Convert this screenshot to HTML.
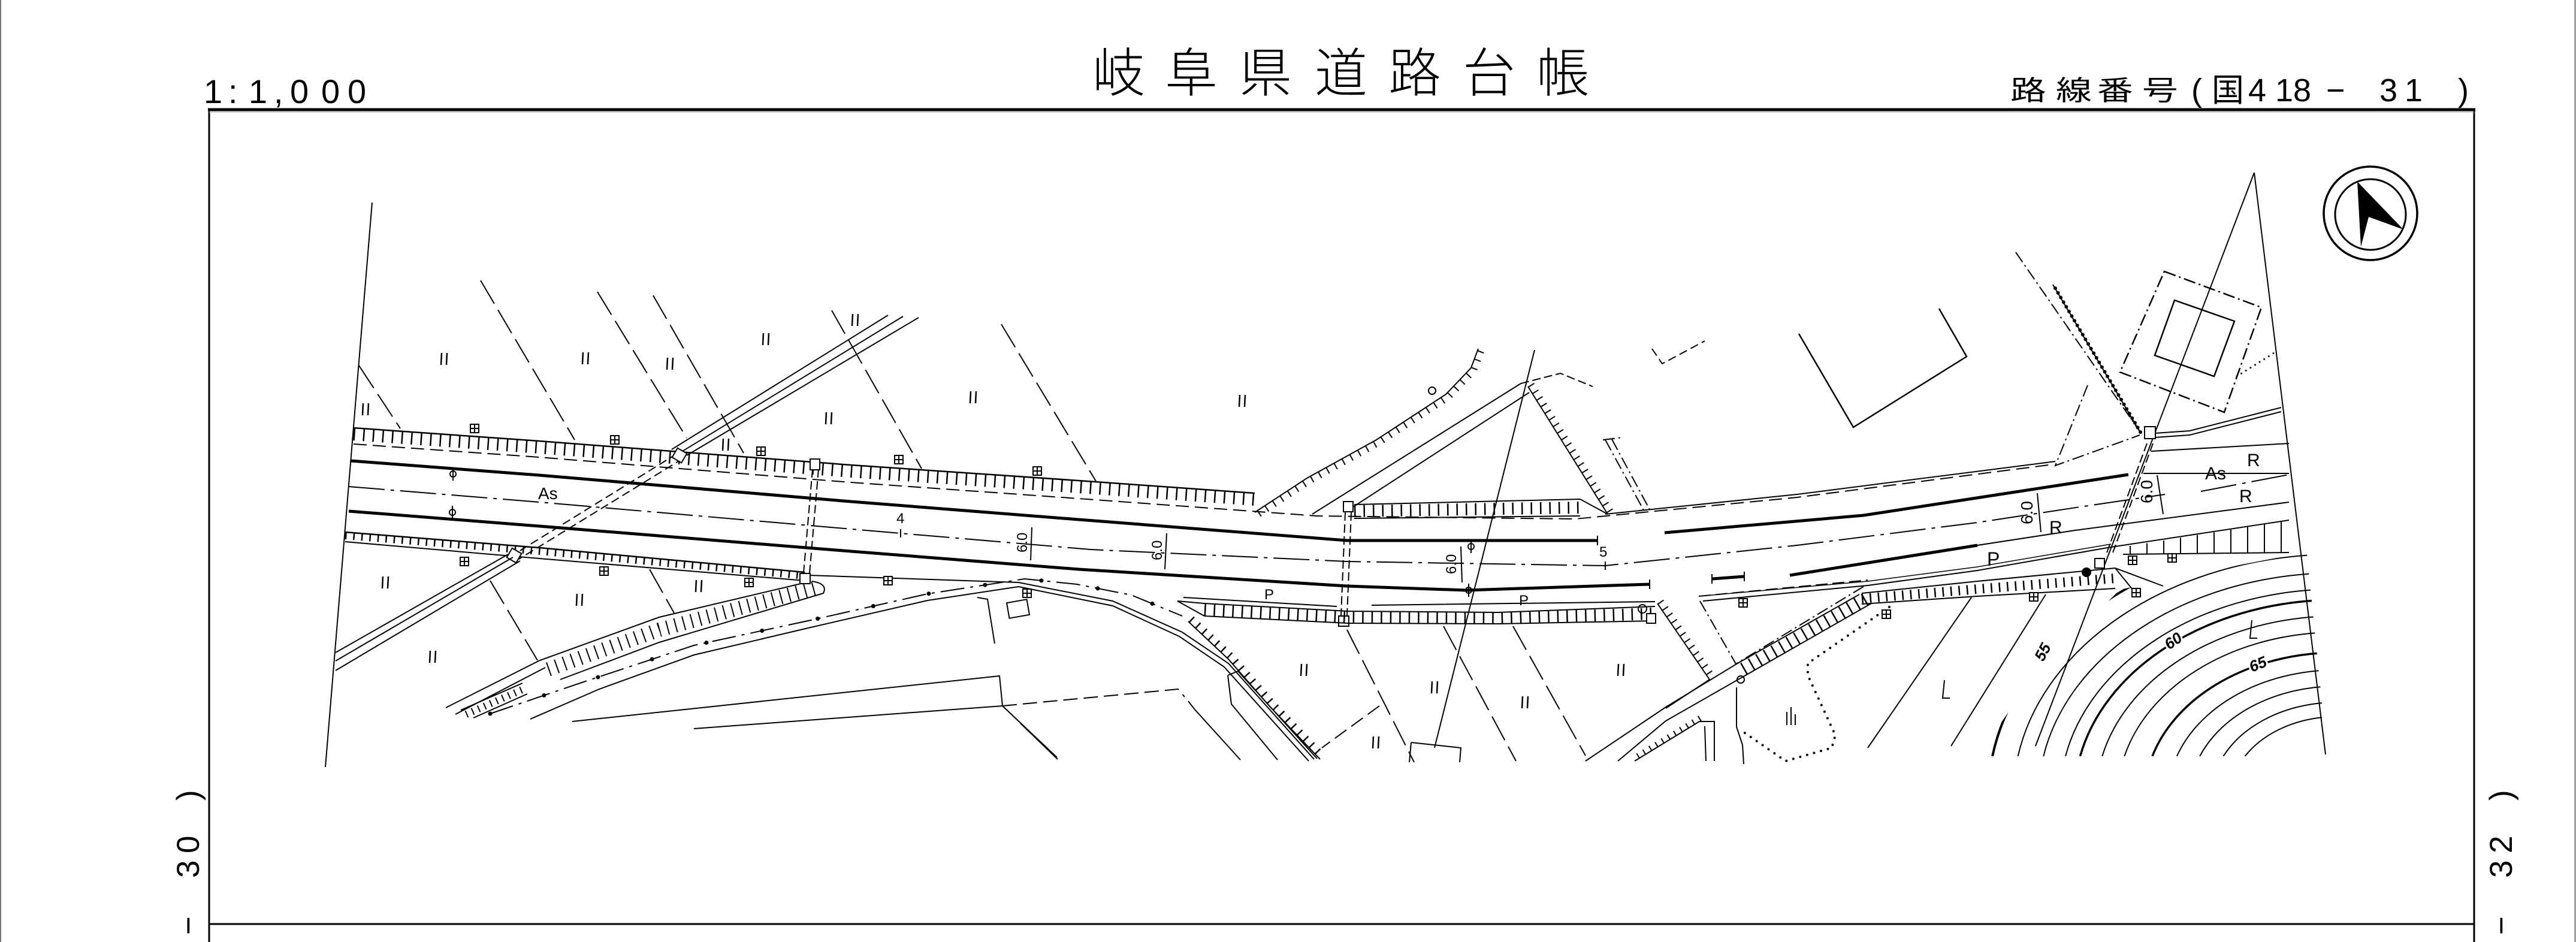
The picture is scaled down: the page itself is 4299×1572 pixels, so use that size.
<!DOCTYPE html>
<html><head><meta charset="utf-8">
<style>
html,body{margin:0;padding:0;background:#fff;width:4299px;height:1572px;overflow:hidden;}
svg{display:block;position:absolute;left:0;top:0;}
</style></head><body>
<svg xmlns="http://www.w3.org/2000/svg" width="4299" height="1572" viewBox="0 0 4299 1572" overflow="hidden">
<defs>
<clipPath id="cc"><polygon points="3300,1262 3400,1120 3538,984 3700,950 3836,924 3850,924 3884,1262"/></clipPath>
</defs>
<rect width="4299" height="1572" fill="#fff"/>
<line x1="1" y1="0" x2="1" y2="1572" stroke="#777" stroke-width="2"/>
<line x1="4297.5" y1="0" x2="4297.5" y2="1572" stroke="#777" stroke-width="2"/>

<!-- frame -->
<g stroke="#000" fill="none">
<line x1="349" y1="181" x2="349" y2="1572" stroke-width="3"/>
<line x1="4129" y1="181" x2="4129" y2="1572" stroke-width="3"/>
<line x1="347" y1="183" x2="4131" y2="183" stroke-width="5"/>
<line x1="349" y1="187" x2="4129" y2="187" stroke="#999" stroke-width="1"/>
<line x1="349" y1="1542" x2="4129" y2="1542" stroke-width="3"/>
</g>

<!-- header texts -->
<text x="340 381 415 457 484 536 580" y="172" font-family="'Liberation Sans', sans-serif" font-size="56" fill="#000">1:1,000</text>
<text x="1823 1944 2068 2194 2317 2441 2564" y="153" font-family="'Noto Sans CJK JP', 'Noto Sans CJK SC', sans-serif" font-weight="300" font-size="88" fill="#000">岐阜県道路台帳</text>
<text transform="scale(1.3,1)" x="2580.8 2639.2 2692.3 2750" y="167" font-family="'Noto Sans CJK JP', sans-serif" font-size="46" fill="#000">路線番号</text>
<text x="3657 3691 3752 3797 3827 3882 3940 3971 4013 4060 4102" y="169" font-family="'Liberation Sans', 'Noto Sans CJK JP', sans-serif" font-size="54" fill="#000">(国418− 31 )</text>

<!-- side labels -->
<text transform="translate(332,1560) rotate(-90)" x="0 48 95 136 180 224" y="0" font-family="'Liberation Sans', sans-serif" font-size="53" fill="#000">− 30 )</text>
<text transform="translate(4192,1560) rotate(-90)" x="0 48 95 136 180 224" y="0" font-family="'Liberation Sans', sans-serif" font-size="53" fill="#000">− 32 )</text>

<!-- north arrow -->
<g stroke="#000" fill="none">
<circle cx="3956" cy="356" r="78" stroke-width="3.5"/>
<circle cx="3956" cy="358" r="59" stroke-width="3"/>
</g>
<polygon points="3934,303 4011,383 3953,362 3940,412" fill="#000"/>

<!-- MAP -->
<g fill="none" stroke="#000" stroke-width="2">
<!-- boundaries -->
<path d="M621,338 L543,1280"/>
<path d="M3762,288 L3881,1259"/>
<path d="M3762,288 L3397,1245"/>
<path d="M2561,584 L2394,1248"/>

<!-- property dashed lines -->
<g stroke-dasharray="45 12">
<path d="M802,468 L959,734"/>
<path d="M997,487 L1146,731"/>
<path d="M1090,493 L1241,756"/>
<path d="M1388,518 L1538,782"/>
<path d="M1671,541 L1829,803"/>
<path d="M599,610 L668,715"/>
<path d="M818,969 L897,1102"/>
<path d="M1084,950 L1125,1023"/>
<path d="M2248,1051 L2360,1272"/>
<path d="M2409,1045 L2530,1270"/>
<path d="M2525,1045 L2646,1261"/>
</g>

<!-- north sidewalk band -->
<path d="M590,714 L900,736 L1420,776 L1800,802 L2094,823" stroke-width="2.5"/>
<path d="M590,725 L900,747 L1420,787 L1800,813 L2094,834" stroke-width="20" stroke-dasharray="2.5 13.5"/>
<path d="M590,741 L900,763 L1420,805 L1800,832 L2198,861 L2629,866 L2999,830 L3426,775" stroke-dasharray="22 10"/>
<path d="M2679,858 L2999,825 L3430,770"/>

<!-- lane lines -->
<path d="M586,769 L900,793 L1420,837 L1800,867 L2248,902 L2666,902" stroke-width="5"/>
<path d="M2778,889 L3110,860 L3552,792" stroke-width="5"/>
<path d="M582,812 L900,838 L1503,890 L1820,917 L2248,937 L2679,944 L2999,910 L3300,872 L3471,846 L3613,825 M3673,820 L3820,792" stroke-dasharray="60 10 6 10"/>
<path d="M582,853 L900,878 L1420,920 L1800,950 L2248,978 L2447,985 L2753,975" stroke-width="5"/>
<path d="M2857,966 L2911,962 M2987,960 L3300,910" stroke-width="5"/>
<path d="M3300,910 L3463,885 L3820,838"/>
<path d="M2666,894 V910 M2753,967 V983 M2857,958 V974 M2911,954 V970 M1503,883 V897 M2679,937 V951"/>

<!-- right side north lines -->
<path d="M3596,723 L3654,719 L3807,680 M3596,730 L3654,726 L3807,687"/>
<path d="M3590,753 L3820,740"/>
<path d="M3577,790 L3820,790"/>

<!-- south sidewalk band left -->
<path d="M576,888 L900,914 L1343,955" stroke-width="2.5"/>
<path d="M576,894 L900,920 L1343,961" stroke-width="12" stroke-dasharray="2.5 11"/>
<path d="M576,904 L900,932 L1343,969"/>

<!-- south edge -->
<path d="M1349,960 L1700,972 L1857,1003 L1973,1055 L2050,1107 L2193,1267"/>
<path d="M1700,979 L1857,1011 L1968,1062 L2043,1113 L2184,1270"/>
<path d="M818,1191 L968,1140 L1158,1077 L1353,1035 L1548,991 L1710,966 L1797,975 L1888,993 L1973,1028" stroke-dasharray="40 10 5 10"/>
<path d="M818,1191 L968,1140 L1158,1077 L1353,1035 L1548,991 L1710,966 L1797,975 L1888,993 L1973,1028" stroke-width="7" stroke-linecap="round" stroke-dasharray="0 95"/>
<path d="M885,1200 L1000,1150 L1158,1093 L1353,1047 L1548,1002 L1700,979"/>
<path d="M1983,1037 L2050,1100 L2120,1180 L2203,1267"/>
<path d="M1988,1033 L2055,1096 L2125,1176 L2208,1263" stroke-width="12" stroke-dasharray="2.5 12"/>

<!-- lower-left embankment -->
<path d="M744,1181 L901,1102 L1100,1030 L1345,972"/>
<path d="M760,1192 L910,1114"/>
<path d="M935,1134 L1100,1072 L1374,990 Q1382,974 1355,970"/>
<path d="M915,1117 L1100,1051 L1360,981" stroke-width="24" stroke-dasharray="2 12"/>
<path d="M769,1185 L872,1140 M790,1198 L880,1158"/>
<path d="M778,1192 L876,1149" stroke-width="12" stroke-dasharray="2 9"/>

<!-- diagonal crossing road -->
<path d="M1482,526 L1121,750 M1507,528 L1134,756 M1533,530 L1146,760"/>
<path d="M1130,757 L858,925 M1140,765 L866,933" stroke-dasharray="14 7"/>
<rect x="-9" y="-9" width="18" height="18" transform="translate(1134,760) rotate(30)" fill="#fff"/>
<rect x="-9" y="-9" width="18" height="18" transform="translate(858,927) rotate(30)" fill="#fff"/>
<path d="M848,925 L560,1089 M856,930 L560,1103 M868,936 L560,1119"/>

<!-- culverts -->
<path d="M1356,783 L1341,957 M1366,783 L1351,957" stroke-dasharray="14 6"/>
<rect x="1352" y="766" width="16" height="18" fill="#fff"/>
<rect x="1335" y="957" width="17" height="17" fill="#fff"/>
<path d="M2245,855 L2238,1028 M2255,855 L2248,1028" stroke-dasharray="14 6"/>
<rect x="2242" y="837" width="16" height="17" fill="#fff"/>
<rect x="2234" y="1028" width="17" height="17" fill="#fff"/>
<path d="M3583,740 L3515,925 M3593,740 L3525,925" stroke-dasharray="14 6"/>
<rect x="3579" y="712" width="18" height="20" fill="#fff"/>
<rect x="3496" y="932" width="16" height="16" fill="#fff"/>
<circle cx="3482" cy="955" r="7" fill="#000"/>

<!-- intersection north -->
<path d="M2467,582 L2455,614 L2413,658 L2297,734 L2181,798 L2094,855"/>
<path d="M2471,586 L2459,618 L2417,662 L2301,738 L2185,802 L2098,859" stroke-width="12" stroke-dasharray="2 13"/>
<circle cx="2390" cy="652" r="6"/>
<path d="M2190,858 L2538,640 M2258,846 L2552,655"/>
<path d="M2538,640 L2604,623 L2658,645" stroke-dasharray="14 6"/>
<path d="M2550,645 L2683,858"/>
<path d="M2555,642 L2688,855" stroke-width="12" stroke-dasharray="2 11"/>
<path d="M2260,842 L2637,833 M2260,865 L2637,861 M2637,833 L2683,858"/>
<path d="M2260,853 L2637,847" stroke-width="20" stroke-dasharray="2.5 13"/>
<path d="M2757,582 L2774,607 L2845,569" stroke-dasharray="14 7"/>
<path d="M2675,734 L2708,730 M2679,734 L2745,855 M2690,733 L2754,852" stroke-dasharray="20 6 3 6"/>
<path d="M3236,515 L3282,595 L3093,713 L3002,557" stroke-width="2.5"/>

<!-- middle south band -->
<path d="M1975,997 L2231,1012 M2289,1010 L2762,1004"/>
<path d="M2010,1007 L2250,1020 L2500,1022 L2762,1012 M2010,1028 L2250,1040 L2500,1041 L2762,1036 M2010,1007 L1965,1003 L2010,1028"/>
<path d="M2010,1018 L2250,1030 L2500,1032 L2762,1024" stroke-width="20" stroke-dasharray="2.5 13"/>
<circle cx="2741" cy="1016" r="7"/>
<rect x="2748" y="1024" width="15" height="16" fill="#fff"/>
<path d="M2766,1007 L2853,1134 L2780,1182"/>
<path d="M2771,1004 L2858,1131" stroke-width="12" stroke-dasharray="2 11"/>

<!-- SE road -->
<path d="M2835,995 L3117,968" stroke-dasharray="20 8"/>
<path d="M2842,1003 L3117,977 L3300,952 L3523,913 L3820,868"/>
<path d="M2835,995 L3117,970 L3300,946 L3523,908" stroke-width="1.5"/>
<path d="M3103,992 L2898,1108 L2780,1180 L2646,1270 M3123,1007 L2913,1127 L2780,1203 L2700,1270"/>
<path d="M3113,1000 L2900,1122" stroke-width="22" stroke-dasharray="2.5 12"/>
<path d="M2837,1003 L2897,1108 L3113,977" stroke-dasharray="20 6 3 6"/>
<path d="M3153,1013 L3017,1107 L3017,1127 L3063,1227 L3057,1248 L2980,1270 L2903,1217" stroke-width="4" stroke-linecap="round" stroke-dasharray="0 12"/>
<path d="M2898,1147 L2898,1213 L2908,1243 L2910,1275"/>
<circle cx="2905" cy="1134" r="6"/>
<path d="M3290,997 L3117,1248 M3414,992 L3256,1245"/>
<path d="M2728,1270 L2836,1204 L2861,1204 L2861,1270 M2845,1212 L2847,1270"/>
<path d="M2733,1262 L2838,1198" stroke-width="10" stroke-dasharray="2 10"/>

<!-- right bands -->
<path d="M3107,990 L3300,970 L3530,948 M3107,1008 L3300,995 L3530,982"/>
<path d="M3107,999 L3300,983 L3530,965" stroke-width="16" stroke-dasharray="2.5 11"/>
<path d="M3543,925 L3820,922"/>
<path d="M3555,911V925 M3583,906.5V924.6 M3611,902V924.3 M3639,897.4V924 M3667,892.8V923.7 M3695,888.3V923.4 M3723,883.8V923.1 M3751,879.2V922.8 M3779,874.7V922.5 M3807,870.1V922.2"/>
<path d="M3530,948 L3610,978 M3530,948 L3560,985"/>

<!-- upper right features -->
<path d="M3364,421 L3571,720" stroke-dasharray="20 6 3 6"/>
<path d="M3426,475 L3571,720"/>
<path d="M3430,481 L3575,726" stroke-width="6" stroke-linecap="round" stroke-dasharray="0 9"/>
<path d="M3484,643 L3430,777 L3571,726" stroke-dasharray="20 6 3 6"/>
<path d="M3612,453 L3774,513 L3712,688 L3538,621 Z" stroke-dasharray="20 6 3 6" stroke-width="2.5"/>
<path d="M3629,501 L3729,536 L3695,628 L3596,593 Z" stroke-width="2.5"/>
<path d="M3733,628 L3795,589" stroke-width="3" stroke-linecap="round" stroke-dasharray="0 9"/>

<!-- lower-left buildings -->
<path d="M955,1204 L1668,1128 L1673,1178 L1764,1264"/>
<path d="M1158,1216 L1673,1178"/>
<path d="M1673,1178 L1820,1164 L1966,1150 L1977,1163" stroke-dasharray="24 10"/>
<path d="M1631,997 L1648,1000 L1660,1074"/>
<rect x="1682" y="1003" width="34" height="26" transform="rotate(-10 1699 1016)"/>
<path d="M1983,1170 L1993,1183 L2070,1268"/>
<path d="M2049,1127 L2066,1120 L2198,1266 M2049,1127 L2055,1175 L2132,1268"/>
<path d="M1703,1207 L1765,1267"/>
<path d="M2355,1239 L2438,1248 L2436,1272 M2352,1272 L2355,1239"/>
<path d="M2302,1178 L2206,1248" stroke-dasharray="24 10"/>

<!-- contours (arc paths, clipped) -->
<g clip-path="url(#cc)">
<path stroke-width="4" d="M3325.1,1262 A582,436 0 0 1 3875,894.4"/>
<path d="M3367.7,1262 A540,405 0 0 1 3875,925.4"/>
<path d="M3410.3,1262 A498,374 0 0 1 3875,956.5"/>
<path d="M3447,1262 A462,347 0 0 1 3875,983.5"/>
<path stroke-width="3.5" d="M3471.5,1262 A438,329 0 0 1 3875,1001.5"/>
<path d="M3508.3,1262 A402,302 0 0 1 3875,1028.6"/>
<path d="M3545.4,1262 A366,275 0 0 1 3875,1055.6"/>
<path stroke-width="3.5" d="M3592,1262 A321,241 0 0 1 3875,1089.7"/>
<path d="M3632.9,1262 A282,212 0 0 1 3875,1118.8"/>
<path d="M3671.2,1262 A246,185 0 0 1 3875,1146"/>
<path d="M3710.5,1262 A210,158 0 0 1 3875,1173.1"/>
<path d="M3746.6,1262 A178,134 0 0 1 3875,1197.3"/>
</g>

<!-- field marks || -->
<path stroke-width="2.5" d="M737,589 l-1,20 M746,589 l-1,20 M973,588 l-1,20 M982,588 l-1,20 M1114,597 l-1,20 M1123,597 l-1,20 M1274,556 l-1,20 M1283,556 l-1,20 M1423,524 l-1,20 M1432,524 l-1,20 M1379,688 l-1,20 M1388,688 l-1,20 M1620,653 l-1,20 M1629,653 l-1,20 M1207,732 l-1,20 M1216,732 l-1,20 M606,673 l-1,20 M615,673 l-1,20 M639,962 l-1,20 M648,962 l-1,20 M963,991 l-1,20 M972,991 l-1,20 M1162,968 l-1,20 M1171,968 l-1,20 M718,1086 l-1,20 M727,1086 l-1,20 M2069,659 l-1,20 M2078,659 l-1,20 M2172,1108 l-1,20 M2181,1108 l-1,20 M2390,1137 l-1,20 M2399,1137 l-1,20 M2541,1162 l-1,20 M2550,1162 l-1,20 M2701,1108 l-1,20 M2710,1108 l-1,20 M2292,1229 l-1,20 M2301,1229 l-1,20"/>
<!-- tree / Λ symbols -->
<path d="M2982,1188 v22 M2989,1180 v30 M2996,1192 v18 M3245,1135 l-3,30 h12 M3758,1035 l-3,30 h12"/>

<!-- ⊞ symbols -->
<path fill="#fff" d="M785,708h14v14h-14zM792,708v14M785,715h14 M1019,727h14v14h-14zM1026,727v14M1019,734h14 M1263,746h14v14h-14zM1270,746v14M1263,753h14 M1493,760h14v14h-14zM1500,760v14M1493,767h14 M1724,779h14v14h-14zM1731,779v14M1724,786h14 M768,930h14v14h-14zM775,930v14M768,937h14 M1001,946h14v14h-14zM1008,946v14M1001,953h14 M1243,965h14v14h-14zM1250,965v14M1243,972h14 M1475,962h14v14h-14zM1482,962v14M1475,969h14 M1707,983h14v14h-14zM1714,983v14M1707,990h14 M2902,999h14v14h-14zM2909,999v14M2902,1006h14 M3141,1018h14v14h-14zM3148,1018v14M3141,1025h14 M3552,928h14v14h-14zM3559,928v14M3552,935h14 M3618,924h14v14h-14zM3625,924v14M3618,931h14 M3558,982h14v14h-14zM3565,982v14M3558,989h14 M3387,989h14v14h-14zM3394,989v14M3387,996h14"/>

<!-- poles -->
<circle cx="756" cy="791" r="5"/><path d="M756,780 v22"/>
<circle cx="755" cy="855" r="5"/><path d="M755,844 v22"/>
<circle cx="2455" cy="912" r="5"/><path d="M2455,901 v22"/>
<circle cx="2451" cy="985" r="5"/><path d="M2451,974 v22"/>

<!-- 6.0 arrows -->
<path d="M1722,880 L1720,935 M1947,890 L1944,950 M2438,912 L2440,972 M3400,823 L3406,888 M3600,793 L3610,858"/>
</g>

<!-- map labels -->
<g font-family="'Liberation Sans', sans-serif" fill="#000">
<text x="898" y="833" font-size="28">As</text>
<text x="1496" y="873" font-size="24">4</text>
<text x="2669" y="929" font-size="24">5</text>
<text x="2110" y="1000" font-size="24">P</text>
<text x="2535" y="1010" font-size="24">P</text>
<text x="3316" y="944" font-size="32">P</text>
<text x="3750" y="778" font-size="30">R</text>
<text x="3737" y="838" font-size="30">R</text>
<text x="3420" y="890" font-size="30">R</text>
<text x="3680" y="800" font-size="30">As</text>
<text transform="translate(1714,922) rotate(-90)" font-size="24">6.0</text>
<text transform="translate(1939,935) rotate(-90)" font-size="24">6.0</text>
<text transform="translate(2430,958) rotate(-90)" font-size="24">6.0</text>
<text transform="translate(3392,875) rotate(-90)" font-size="28">6.0</text>
<text transform="translate(3592,840) rotate(-90)" font-size="28">6.0</text>
<g font-size="26" font-style="italic" font-weight="bold" stroke="#fff" stroke-width="6" paint-order="stroke">
<text transform="translate(3410,1105) rotate(-62)">55</text>
<text transform="translate(3620,1085) rotate(-35)">60</text>
<text transform="translate(3758,1122) rotate(-22)">65</text>
</g>
</g>
</svg>
</body></html>
